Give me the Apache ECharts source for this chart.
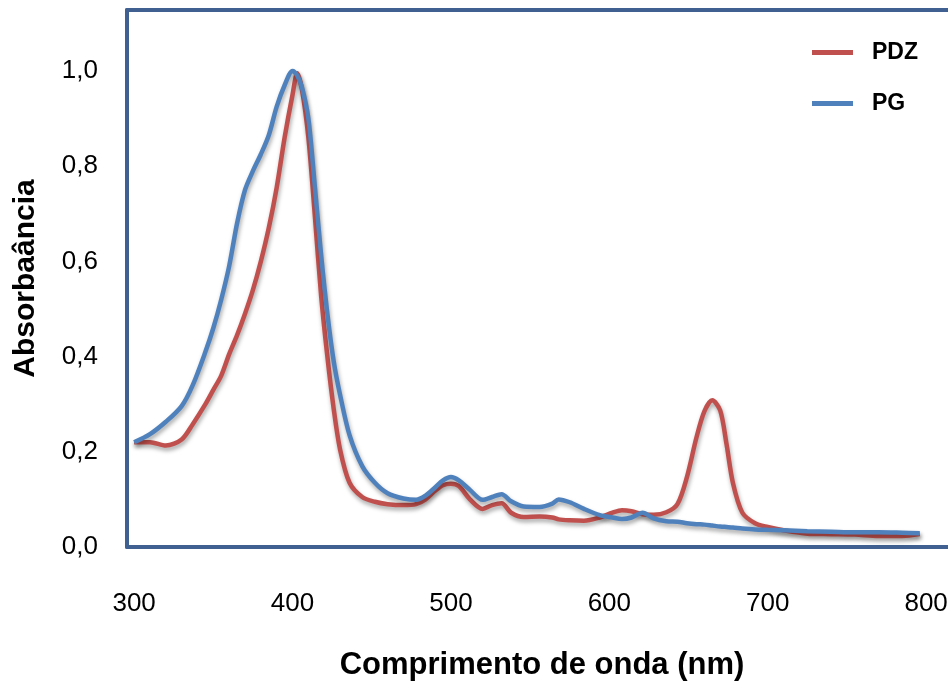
<!DOCTYPE html>
<html>
<head>
<meta charset="utf-8">
<title>Absorbância</title>
<script src="https://cdn.jsdelivr.net/npm/echarts@6.0.0/dist/echarts.min.js"></script>
<style>
    html, body {margin: 0; padding: 0; background: #fff;}
    #chart {width: 948px; height: 686px;}
</style>
</head>
<body>
<div id="chart"></div>
<script>
// comprimento de onda (nm)
var wavelength = [300, 310, 320, 330, 337, 345, 350, 355, 360, 365, 370, 375, 380, 385, 390, 395,
    400, 403, 406, 410, 414, 418, 422, 426, 430, 436, 444, 452, 460, 470, 478, 484, 490, 495,
    500, 505, 512, 520, 526, 532, 538, 546, 556, 564, 568, 575, 584, 594, 602, 608, 614, 621,
    628, 636, 643, 649, 655, 660, 665, 670, 674, 678, 684, 692, 700, 710, 725, 740, 755, 770,
    785, 796];

var pdz = [0.220, 0.220, 0.213, 0.226, 0.258, 0.300, 0.330, 0.360, 0.405, 0.445, 0.490, 0.540,
    0.600, 0.670, 0.755, 0.860, 0.950, 0.995, 0.960, 0.860, 0.700, 0.530, 0.400, 0.290, 0.205,
    0.135, 0.105, 0.095, 0.090, 0.088, 0.090, 0.100, 0.118, 0.130, 0.133, 0.128, 0.100, 0.080,
    0.088, 0.092, 0.072, 0.063, 0.064, 0.062, 0.058, 0.056, 0.055, 0.062, 0.072, 0.077, 0.075,
    0.069, 0.068, 0.073, 0.090, 0.147, 0.230, 0.285, 0.308, 0.287, 0.216, 0.135, 0.072, 0.050,
    0.042, 0.035, 0.028, 0.027, 0.026, 0.023, 0.023, 0.027];

var pg = [0.220, 0.237, 0.263, 0.296, 0.340, 0.410, 0.460, 0.520, 0.590, 0.680, 0.750, 0.790,
    0.825, 0.865, 0.925, 0.970, 1.000, 0.990, 0.965, 0.900, 0.760, 0.615, 0.490, 0.390, 0.320,
    0.235, 0.170, 0.135, 0.113, 0.102, 0.099, 0.108, 0.125, 0.140, 0.147, 0.140, 0.120, 0.099,
    0.105, 0.111, 0.096, 0.085, 0.084, 0.091, 0.100, 0.094, 0.080, 0.067, 0.062, 0.059, 0.062,
    0.072, 0.060, 0.054, 0.053, 0.050, 0.048, 0.047, 0.045, 0.043, 0.042, 0.041, 0.039, 0.037,
    0.036, 0.035, 0.033, 0.032, 0.031, 0.031, 0.030, 0.029];

var xTicks = [300, 400, 500, 600, 700, 800];
var yTicks = [0, 0.2, 0.4, 0.6, 0.8, 1.0];

/**
 * junta x e y em pares [x, y]
 */
function pairs(xs, ys) {
    var out = [];
    for (var i = 0; i < xs.length; i++) {
        out.push([xs[i], ys[i]]);
    }
    return out;
}

var frameColor = '#3f6090';
var font = 'Liberation Sans, Arial, sans-serif';

var chart = echarts.init(document.getElementById('chart'));

var lineShadow = {
    shadowColor: 'rgba(0, 0, 0, 0.35)',
    shadowBlur: 4,
    shadowOffsetX: 1,
    shadowOffsetY: 3
};

var option = {
    animation: false,
    backgroundColor: '#fff',
    grid: {
        left: 127,
        top: 10,
        width: 830,
        height: 537,
        outerBoundsMode: 'none'
    },
    legend: {
        orient: 'vertical',
        left: 807,
        top: 36,
        itemWidth: 41,
        itemHeight: 5,
        itemGap: 28,
        icon: 'rect',
        textStyle: {
            fontFamily: font,
            fontWeight: 'bold',
            fontSize: 23,
            color: '#000',
            padding: [0, 0, 0, 14]
        },
        data: ['PDZ', 'PG']
    },
    xAxis: [
        {
            type: 'value',
            min: 295.5,
            max: 819.5,
            name: 'Comprimento de onda (nm)',
            nameLocation: 'middle',
            nameGap: 103,
            nameTextStyle: {
                fontFamily: font,
                fontWeight: 'bold',
                fontSize: 31,
                color: '#000'
            },
            axisLine: {show: true, lineStyle: {color: frameColor, width: 4}},
            axisTick: {show: false},
            splitLine: {show: false},
            axisLabel: {
                customValues: xTicks,
                margin: 44,
                fontFamily: font,
                fontSize: 26,
                color: '#000'
            }
        },
        {
            // borda superior do quadro
            type: 'value',
            position: 'top',
            min: 295.5,
            max: 819.5,
            axisLine: {show: true, onZero: false, lineStyle: {color: frameColor, width: 4}},
            axisTick: {show: false},
            axisLabel: {show: false},
            splitLine: {show: false}
        }
    ],
    yAxis: {
        type: 'value',
        min: 0,
        max: 1.128,
        name: 'Absorbaância',
        nameLocation: 'middle',
        nameGap: 86,
        nameTextStyle: {
            fontFamily: font,
            fontWeight: 'bold',
            fontSize: 30,
            color: '#000'
        },
        axisLine: {show: true, lineStyle: {color: frameColor, width: 4}},
        axisTick: {show: false},
        splitLine: {show: false},
        axisLabel: {
            customValues: yTicks,
            margin: 29,
            fontFamily: font,
            fontSize: 26,
            color: '#000',
            formatter: function (v) {
                return v.toFixed(1).replace('.', ',');
            }
        }
    },
    series: [
        {
            name: 'PDZ',
            type: 'line',
            data: pairs(wavelength, pdz),
            smooth: 0.3,
            showSymbol: false,
            color: '#c0504d',
            lineStyle: Object.assign({width: 4.5, color: '#c0504d'}, lineShadow)
        },
        {
            name: 'PG',
            type: 'line',
            data: pairs(wavelength, pg),
            smooth: 0.3,
            showSymbol: false,
            color: '#4f81bd',
            lineStyle: Object.assign({width: 4.5, color: '#4f81bd'}, lineShadow)
        }
    ]
};

chart.setOption(option);
</script>
</body>
</html>
